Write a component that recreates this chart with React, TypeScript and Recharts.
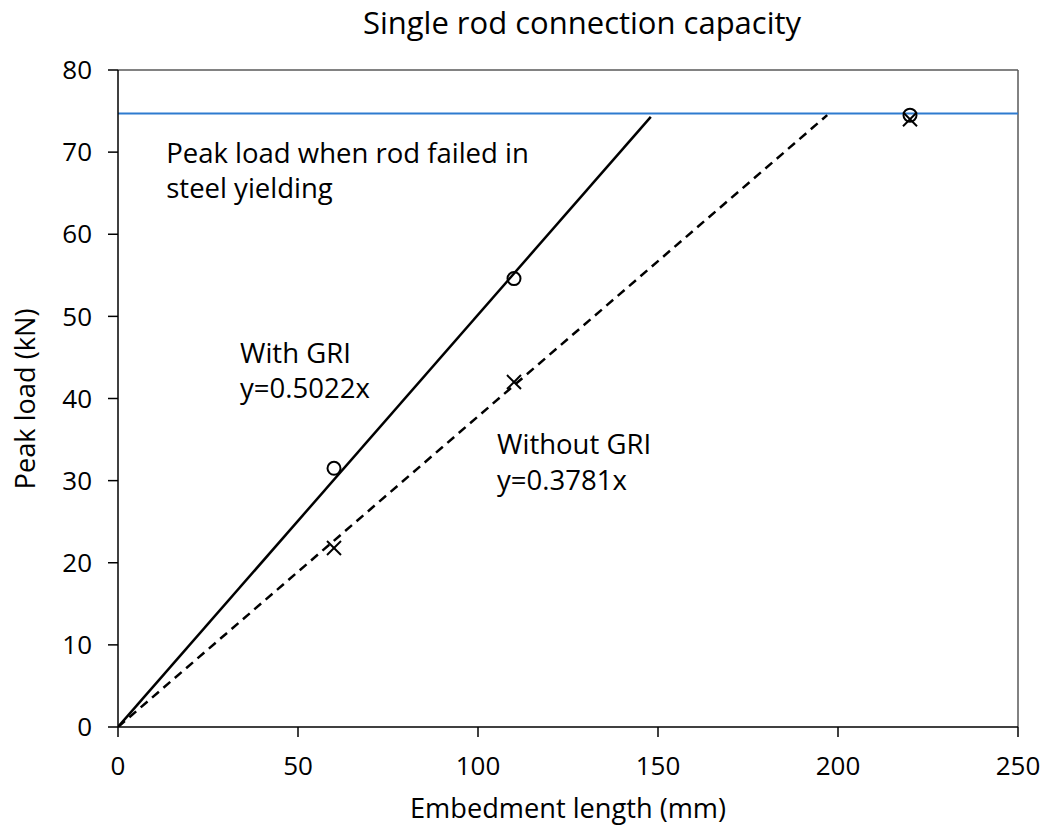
import React from 'react';
import {
  ComposedChart, XAxis, YAxis, Line, Scatter, ReferenceLine,
} from 'recharts';

const withGri = [
  { x: 60, y: 31.5 },
  { x: 110, y: 54.6 },
  { x: 220, y: 74.5 },
];
const withoutGri = [
  { x: 60, y: 21.8 },
  { x: 110, y: 42.0 },
  { x: 220, y: 74.0 },
];
const fitWith = [
  { x: 0, y: 0 },
  { x: 148, y: 74.3 },
];
const fitWithout = [
  { x: 0, y: 0 },
  { x: 197, y: 74.5 },
];
const yieldLoad = 74.7;
const xTicks = [0, 50, 100, 150, 200, 250];
const yTicks = [0, 10, 20, 30, 40, 50, 60, 70, 80];
const notes = [
  { x: 13.4, y: 70.0, text: 'Peak load when rod failed in' },
  { x: 13.4, y: 65.75, text: 'steel yielding' },
  { x: 33.9, y: 45.66, text: 'With GRI' },
  { x: 33.9, y: 41.4, text: 'y=0.5022x' },
  { x: 105.3, y: 34.46, text: 'Without GRI' },
  { x: 105.3, y: 30.08, text: 'y=0.3781x' },
];
const title = 'Single rod connection capacity';
const xLabel = 'Embedment length (mm)';
const yLabel = 'Peak load (kN)';

const FONT = '"Open Sans", Lato, sans-serif';

const Circle = (p: any) => (
  <circle cx={p.cx} cy={p.cy} r={6.5} fill="none" stroke="#000" strokeWidth={2} />
);
const Cross = (p: any) => (
  <g stroke="#000" strokeWidth={2}>
    <line x1={p.cx - 7} y1={p.cy - 7} x2={p.cx + 7} y2={p.cy + 7} />
    <line x1={p.cx - 7} y1={p.cy + 7} x2={p.cx + 7} y2={p.cy - 7} />
  </g>
);
const Note = (p: any) => (
  <text x={p.cx} y={p.cy} fontSize={27.5} fontFamily={FONT} fill="#000" dominantBaseline="central">
    {p.payload.text}
  </text>
);

export default function App() {
  return (
    <div style={{ position: 'absolute', left: 0, top: 0, width: 1047, height: 827, background: '#fff' }}>
      <ComposedChart
        width={1047}
        height={827}
        margin={{ top: 70, right: 29, bottom: 0, left: 0 }}
      >
        <text x={582} y={22} textAnchor="middle" dominantBaseline="central" fontSize={31} fontFamily={FONT} fill="#000">
          {title}
        </text>
        <text x={568} y={807} textAnchor="middle" dominantBaseline="central" fontSize={27.2} fontFamily={FONT} fill="#000">
          {xLabel}
        </text>
        <text x={24} y={399} transform="rotate(-90 24 399)" textAnchor="middle" dominantBaseline="central" fontSize={27.2} fontFamily={FONT} fill="#000">
          {yLabel}
        </text>
        <XAxis
          type="number"
          dataKey="x"
          domain={[0, 250]}
          ticks={xTicks}
          height={100}
          tickSize={10}
          tickMargin={20}
          stroke="#000"
          strokeWidth={1.5}
          tick={{ fill: '#000', fontSize: 26, fontFamily: FONT }}
          allowDataOverflow
        />
        <YAxis
          type="number"
          dataKey="y"
          domain={[0, 80]}
          ticks={yTicks}
          width={118}
          tickSize={10}
          tickMargin={16}
          stroke="#000"
          strokeWidth={1.5}
          tick={{ fill: '#000', fontSize: 26, fontFamily: FONT }}
          allowDataOverflow
        />
        <ReferenceLine y={80} stroke="#595959" strokeWidth={1.5} />
        <ReferenceLine x={250} stroke="#595959" strokeWidth={1.5} />
        <ReferenceLine y={yieldLoad} stroke="#2e7bcf" strokeWidth={2} />
        <Line data={fitWith} dataKey="y" stroke="#000" strokeWidth={2.5} dot={false} isAnimationActive={false} />
        <Line data={fitWithout} dataKey="y" stroke="#000" strokeWidth={2.5} strokeDasharray="9 6" dot={false} isAnimationActive={false} />
        <Scatter data={withGri} dataKey="y" shape={Circle} isAnimationActive={false} />
        <Scatter data={withoutGri} dataKey="y" shape={Cross} isAnimationActive={false} />
        <Scatter data={notes} dataKey="y" shape={Note} isAnimationActive={false} />
      </ComposedChart>
    </div>
  );
}
